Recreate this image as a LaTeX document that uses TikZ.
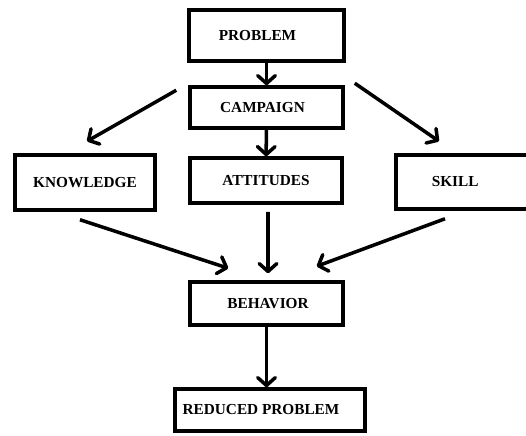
\documentclass[tikz,border=0pt]{standalone}
\usepackage{fontspec}
\setmainfont{Liberation Serif}
\usetikzlibrary{arrows.meta,calc}
\begin{document}
\begin{tikzpicture}[x=0.02cm,y=-0.02cm,
		box/.style={draw,line width=2pt,inner sep=0pt,font=\bfseries\fontsize{8.7}{10}\selectfont},
		arr/.style={line width=2pt,-{Straight Barb[length=4.5pt,width=10pt,round]}}]
			\path[use as bounding box,clip](0,0)rectangle(526,435);
			\node[box,minimum width=3.10cm,minimum height=1.02cm](problem)at(266.5,35.5){\hspace*{-0.36cm}PROBLEM};
			\node[box,minimum width=3.06cm,minimum height=0.82cm](campaign)at(266.5,107.5){\hspace*{-0.16cm}CAMPAIGN};
			\node[box,minimum width=2.80cm,minimum height=1.10cm](knowledge)at(85,182.5){KNOWLEDGE};
			\node[box,minimum width=3.04cm,minimum height=0.90cm](attitudes)at(266,180.5){ATTITUDES};
			\node[box,anchor=west,text width=2cm,align=left,inner xsep=0.72cm,minimum height=1.08cm](skill)at(394,182){SKILL};
			\node[box,minimum width=3.06cm,minimum height=0.86cm](behavior)at(266.5,303.5){BEHAVIOR\hspace*{-0.06cm}};
			\node[box,minimum width=3.80cm,minimum height=0.84cm](reduced)at(270,410){\hspace*{-0.36cm}REDUCED PROBLEM};
			\draw[arr](problem)--(campaign);
			\draw[arr](campaign)--(attitudes);
			\draw[arr]($(campaign.north west)+(-12,5)$)--($(knowledge.north)+(2,-12)$);
			\draw[arr]($(campaign.north east)+(10,-2)$)--($(skill.north west)+(45,-12)$);
			\draw[arr]($(knowledge.south)+(-5,8)$)--($(behavior.north west)+(40,-12)$);
			\draw[arr]($(attitudes.south)+(2,7)$)--($(behavior.north)+(1.5,-7)$);
			\draw[arr]($(skill.south west)+(51,8)$)--($(behavior.north east)+(-28,-14)$);
			\draw[arr](behavior.south)--(behavior.south|-reduced.north);
		\end{tikzpicture}
\end{document}
